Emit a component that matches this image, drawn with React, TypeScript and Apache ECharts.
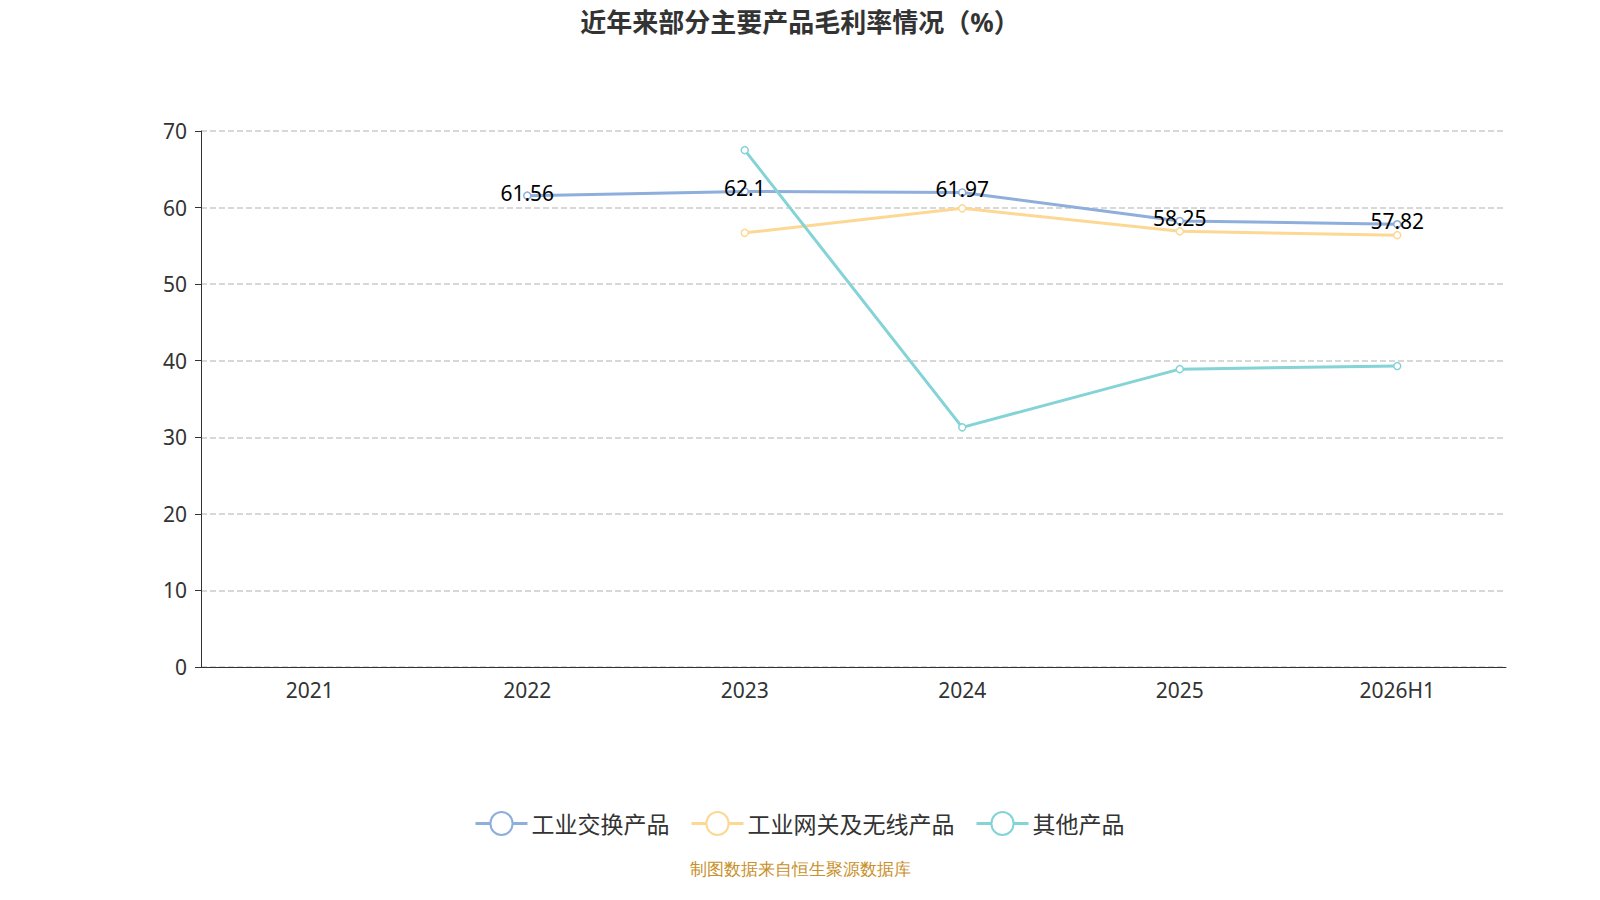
import React, { useEffect, useRef } from 'react';
import * as echarts from 'echarts';

const categories = ['2021', '2022', '2023', '2024', '2025', '2026H1'];
const switchProducts = [null, 61.56, 62.1, 61.97, 58.25, 57.82];
const gatewayProducts = [null, null, 56.7, 59.9, 56.9, 56.4];
const otherProducts = [null, null, 67.5, 31.3, 38.9, 39.3];

const App: React.FC = () => {
  const chartRef = useRef<HTMLDivElement>(null);

  useEffect(() => {
    if (!chartRef.current) return;
    document.body.style.margin = '0';
    const myChart = echarts.init(chartRef.current, undefined, { renderer: 'svg' });
    const line = (name: string, data: (number | null)[], color: string, label: boolean) => ({
      name,
      type: 'line' as const,
      data,
      symbol: 'circle',
      symbolSize: 7,
      lineStyle: { width: 3, color },
      itemStyle: { color: '#fff', borderColor: color, borderWidth: 1.5 },
      label: { show: label, position: 'inside' as const, color: '#000', fontSize: 21, offset: [0, -3] },
    });
    myChart.setOption({
      animation: false,
      textStyle: { fontFamily: 'Noto Sans, Noto Sans CJK SC' },
      title: {
        text: '近年来部分主要产品毛利率情况（%）',
        left: 'center',
        top: 4,
        textStyle: { fontSize: 26, fontWeight: 'bold', color: '#333' },
      },
      grid: { left: 201, right: 94, top: 131, bottom: 233 },
      xAxis: {
        type: 'category',
        data: categories,
        axisLine: { lineStyle: { color: '#333' } },
        axisTick: { length: 6 },
        axisLabel: { fontSize: 21, color: '#333', margin: 12 },
      },
      yAxis: {
        type: 'value',
        min: 0,
        max: 70,
        interval: 10,
        axisLine: { show: true, lineStyle: { color: '#333' } },
        axisTick: { show: true, length: 6 },
        axisLabel: { fontSize: 21, color: '#333', margin: 14 },
        splitLine: { lineStyle: { type: 'dashed', color: '#ccc', width: 1.5 } },
      },
      legend: {
        top: 806,
        itemWidth: 50,
        itemHeight: 26,
        itemGap: 22,
        textStyle: { fontSize: 23, color: '#333' },
        icon: 'path://M0,12 L14,12 A11,11 0 1,1 36,12 L50,12 L50,13 L36,13 A11,11 0 1,1 14,13 L0,13 Z',
      },
      graphic: [{
        type: 'text',
        left: 'center',
        top: 861,
        style: { text: '制图数据来自恒生聚源数据库', fontSize: 17, fill: '#c8902a' },
      }],
      series: [
        line('工业交换产品', switchProducts, '#8eaedb', true),
        line('工业网关及无线产品', gatewayProducts, '#fdd894', false),
        line('其他产品', otherProducts, '#84d3d6', false),
      ],
    });
    return () => myChart.dispose();
  }, []);

  return <div ref={chartRef} style={{ width: '1600px', height: '900px' }} />;
};

export default App;
